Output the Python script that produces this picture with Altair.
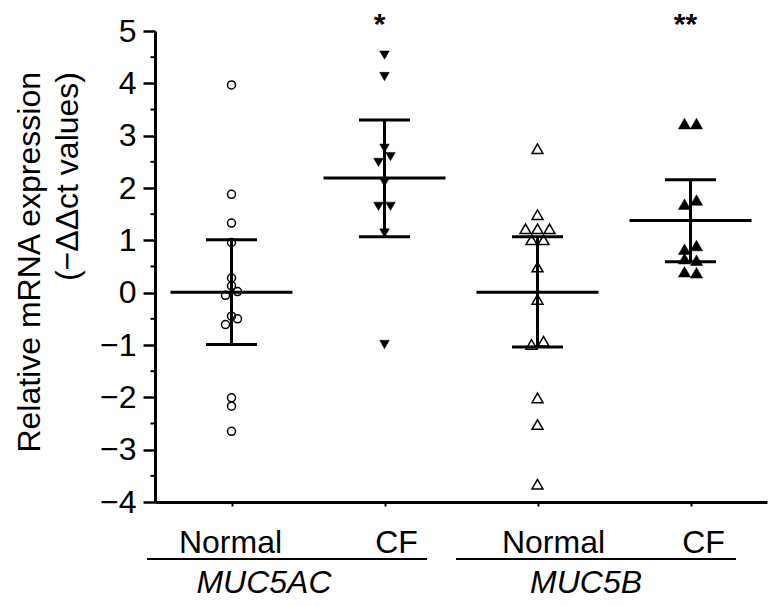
import altair as alt
import pandas as pd

# ---------------- data ----------------
groups = ["MUC5AC Normal", "MUC5AC CF", "MUC5B Normal", "MUC5B CF"]
group_labels = ["Normal", "CF", "Normal", "CF"]
genes = ["MUC5AC", "MUC5B"]
significance = ["", "*", "", "**"]

muc5ac_normal = [3.97, 1.88, 1.33, 0.96, 0.28, 0.13, 0.02, -0.05, -0.45, -0.50, -0.61, -2.01, -2.17, -2.65]
muc5ac_normal_side = [0, 0, 0, 0, 0, 0, 0.5, -0.5, 0, 0.5, -0.5, 0, 0, 0]
muc5ac_cf = [4.54, 4.13, 2.76, 2.60, 2.49, 2.11, 1.65, 1.65, 1.14, -0.99]
muc5ac_cf_side = [0, 0, 0, 0.5, -0.5, 0, -0.5, 0.5, 0, 0]
muc5b_normal = [2.75, 1.49, 1.22, 1.22, 1.22, 1.01, 1.01, 0.49, -0.13, -0.93, -0.99, -2.01, -2.52, -3.66]
muc5b_normal_side = [0, 0, -1, 0, 1, -0.5, 0.5, 0, 0, 0.5, -0.5, 0, 0, 0]
muc5b_cf = [3.23, 3.23, 1.77, 1.69, 0.90, 0.83, 0.65, 0.62, 0.40, 0.38]
muc5b_cf_side = [-0.5, 0.5, 0.5, -0.5, 0.5, -0.5, -0.5, 0.5, -0.5, 0.5]

means = [0.01, 2.19, 0.01, 1.38]
ci_upper = [1.01, 3.30, 1.07, 2.16]
ci_lower = [-0.99, 1.07, -1.04, 0.59]

y_ticks = [-4, -3, -2, -1, 0, 1, 2, 3, 4, 5]
y_minor = [-3.5, -2.5, -1.5, -0.5, 0.5, 1.5, 2.5, 3.5, 4.5]

y_title_lines = ["Relative mRNA expression", "(\u2212\u0394\u0394ct values)"]

# ---------------- styling ----------------
FONT = "Liberation Sans"
FS = 32
marker_shapes = ["circle", "triangle-down", "triangle-up", "triangle-up"]
marker_sizes = [64, 150, 125, 160]
marker_filled = [False, True, False, True]
label_nudge = [-1, 12, 16, 13]
PX_PER_GROUP = 153.0
JITTER_PX = 12.0

# ---------------- tables ----------------
rows = []
for gi, (vals, sides) in enumerate([
    (muc5ac_normal, muc5ac_normal_side),
    (muc5ac_cf, muc5ac_cf_side),
    (muc5b_normal, muc5b_normal_side),
    (muc5b_cf, muc5b_cf_side),
]):
    for v, s in zip(vals, sides):
        rows.append({"gi": gi, "group": groups[gi], "value": v, "side": s,
                     "filled": int(marker_filled[gi])})
points = pd.DataFrame(rows)

stats = pd.DataFrame({"gi": [0, 1, 2, 3], "group": groups, "mean": means,
                      "lower": ci_lower, "upper": ci_upper})
sig = pd.DataFrame({"gi": [0, 1, 2, 3], "text": significance})
labs = pd.DataFrame({"gi": [0, 1, 2, 3], "label": group_labels, "nudge": label_nudge})
minor = pd.DataFrame({"v": y_minor})

xscale = alt.Scale(domain=[-0.5, 3.5], nice=False, zero=False)
yscale = alt.Scale(domain=[-4, 5], nice=False, zero=False)

x_axis = alt.Axis(values=[0, 1, 2, 3], labels=False, title=None, grid=False,
                  tickSize=4, tickWidth=2, tickColor="black",
                  domainColor="black", domainWidth=3)
y_axis = alt.Axis(values=y_ticks, title=None, grid=False, format="d",
                  tickSize=12, tickWidth=2.5, tickColor="black",
                  domainColor="black", domainWidth=3,
                  labelFont=FONT, labelFontSize=FS, labelColor="black",
                  labelPadding=7)


def X(field):
    return alt.X(field, scale=xscale, axis=x_axis)


def Y(field):
    return alt.Y(field, scale=yscale, axis=y_axis)


shape_enc = alt.Shape("group:N", scale=alt.Scale(domain=groups, range=marker_shapes), legend=None)
size_enc = alt.Size("group:N", scale=alt.Scale(domain=groups, range=marker_sizes), legend=None)

base_pts = alt.Chart(points).transform_calculate(
    xpos=f"datum.gi + datum.side * {JITTER_PX} / {PX_PER_GROUP}"
)

open_pts = base_pts.transform_filter("datum.filled == 0").mark_point(
    filled=False, stroke="black", strokeWidth=1.5, opacity=1
).encode(x=X("xpos:Q"), y=Y("value:Q"), shape=shape_enc, size=size_enc)

filled_pts = base_pts.transform_filter("datum.filled == 1").mark_point(
    filled=True, fill="black", stroke="black", strokeWidth=0.5, opacity=1
).encode(x=X("xpos:Q"), y=Y("value:Q"), shape=shape_enc, size=size_enc)

vbar = alt.Chart(stats).mark_rule(color="black", strokeWidth=3).encode(
    x=X("gi:Q"), y=Y("lower:Q"), y2="upper:Q")

cap_lo = alt.Chart(stats).mark_tick(orient="horizontal", size=51, thickness=3,
                                    color="black", opacity=1).encode(
    x=X("gi:Q"), y=Y("lower:Q"))
cap_hi = alt.Chart(stats).mark_tick(orient="horizontal", size=51, thickness=3,
                                    color="black", opacity=1).encode(
    x=X("gi:Q"), y=Y("upper:Q"))
mean_tick = alt.Chart(stats).mark_tick(orient="horizontal", size=122, thickness=3,
                                       color="black", opacity=1).encode(
    x=X("gi:Q"), y=Y("mean:Q"))

minor_ticks = alt.Chart(minor).mark_rule(color="black", strokeWidth=2).encode(
    y=Y("v:Q"), x=alt.value(-4.5), x2=alt.value(0))

stars = alt.Chart(sig).transform_filter("datum.text != ''").mark_text(
    font=FONT, fontSize=30, fontWeight="bold", baseline="alphabetic",
    align="center", dx=-5, color="black"
).encode(x=X("gi:Q"), y=alt.value(3), text="text:N")

group_text = alt.Chart(labs).transform_calculate(
    lx=f"datum.gi + datum.nudge / {PX_PER_GROUP}"
).mark_text(
    font=FONT, fontSize=FS, baseline="alphabetic", align="center", color="black"
).encode(x=X("lx:Q"), y=alt.value(522), text="label:N")

one = pd.DataFrame({"k": [0]})
underline1 = alt.Chart(one).mark_rule(color="black", strokeWidth=2).encode(
    x=alt.value(-8), x2=alt.value(272), y=alt.value(528))
underline2 = alt.Chart(one).mark_rule(color="black", strokeWidth=2).encode(
    x=alt.value(301), x2=alt.value(581), y=alt.value(528))

gene1 = alt.Chart(pd.DataFrame({"t": [genes[0]]})).mark_text(
    font=FONT, fontSize=FS, fontStyle="italic", baseline="alphabetic",
    align="center", color="black"
).encode(x=alt.value(109), y=alt.value(562), text="t:N")
gene2 = alt.Chart(pd.DataFrame({"t": [genes[1]]})).mark_text(
    font=FONT, fontSize=FS, fontStyle="italic", baseline="alphabetic",
    align="center", color="black"
).encode(x=alt.value(431), y=alt.value(562), text="t:N")

title1 = alt.Chart(pd.DataFrame({"t": [y_title_lines[0]]})).mark_text(
    font=FONT, fontSize=FS, angle=270, align="right", baseline="alphabetic",
    color="black"
).encode(x=alt.value(-115), y=alt.value(41), text="t:N")
title2 = alt.Chart(pd.DataFrame({"t": [y_title_lines[1]]})).mark_text(
    font=FONT, fontSize=FS, angle=270, align="right", baseline="alphabetic",
    color="black"
).encode(x=alt.value(-77), y=alt.value(41), text="t:N")

chart = alt.layer(
    open_pts, filled_pts, vbar, cap_lo, cap_hi, mean_tick, minor_ticks,
    stars, group_text, underline1, underline2, gene1, gene2, title1, title2,
).properties(
    width=612, height=471,
    autosize=alt.AutoSizeParams(type="none"),
    padding={"left": 147, "top": 23, "right": 3, "bottom": 97},
).configure_view(stroke=None)

chart.save("out.html", embed_options={"renderer": "svg", "actions": False})
